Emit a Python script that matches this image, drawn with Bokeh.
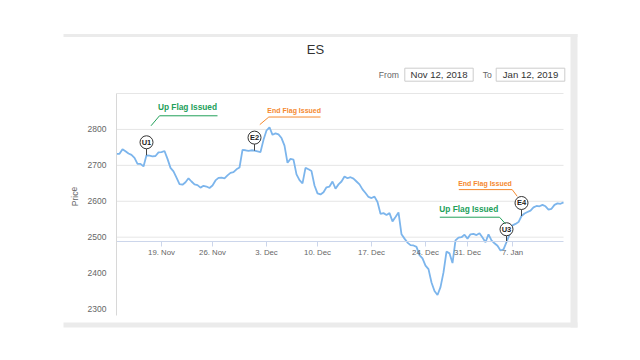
from bokeh.plotting import figure
from bokeh.models import Range1d, FixedTicker, Label, BoxAnnotation
from bokeh.core.properties import value
from bokeh.embed import file_html
from bokeh.resources import INLINE

# ---------------- data ----------------
TITLE = "ES"
FROM_DATE = "Nov 12, 2018"
TO_DATE = "Jan 12, 2019"

# ES price, ordinal (trading-time) samples from 13 Nov 2018 to 11 Jan 2019
prices = [
    2732, 2732, 2745, 2739, 2733, 2729, 2721, 2704, 2704, 2697,
    2728, 2727, 2725, 2726, 2736, 2737, 2740, 2718, 2693, 2683,
    2666, 2648, 2646, 2653, 2664, 2655, 2647, 2645, 2638, 2643,
    2641, 2637, 2644, 2658, 2665, 2666, 2664, 2672, 2679, 2681,
    2689, 2694, 2743, 2742, 2740, 2742, 2741, 2739, 2737, 2771,
    2797, 2806, 2785, 2789, 2786, 2776, 2755, 2707, 2718, 2716,
    2675, 2659, 2650, 2693, 2689, 2684, 2644, 2622, 2619, 2625,
    2639, 2641, 2655, 2635, 2647, 2655, 2669, 2664, 2667, 2663,
    2655, 2647, 2633, 2623, 2612, 2609, 2613, 2598, 2565, 2567,
    2562, 2567, 2544, 2556, 2569, 2508, 2496, 2485, 2478, 2477,
    2473, 2450, 2441, 2421, 2411, 2374, 2350, 2339, 2361, 2402,
    2460, 2455, 2428, 2491, 2499, 2500, 2507, 2496, 2508, 2509,
    2506, 2511, 2499, 2486, 2508, 2491, 2483, 2476, 2463, 2466,
    2486, 2507, 2533, 2537, 2542, 2559, 2566, 2570, 2574, 2583,
    2587, 2586, 2590, 2586, 2577, 2579, 2590, 2594, 2593, 2597,
]
x_index = list(range(len(prices)))

tick_index = [15, 32, 50, 67, 85, 103, 117, 132]
tick_labels = ["19. Nov", "26. Nov", "3. Dec", "10. Dec", "17. Dec", "24. Dec", "31. Dec", "7. Jan"]

y_label_ticks = [2300, 2400, 2500, 2600, 2700, 2800]
y_grid_ticks = [2500, 2600, 2700, 2800, 2900]
x_axis_level = 2489
Y_MIN, Y_MAX = 2282, 2900

flag_index = [10, 46, 130, 135]
flag_names = ["U1", "E2", "U3", "E4"]
callout_texts = ["Up Flag Issued", "End Flag Issued", "Up Flag Issued", "End Flag Issued"]

# ---------------- styles ----------------
GREEN = "#22a05a"
ORANGE = "#f5892f"
callout_colors = [GREEN, ORANGE, GREEN, ORANGE]
callout_sizes = ["8.3px", "7px", "8.3px", "7px"]
# pixel offsets (dx, dy; dy positive = down) relative to the flagged point
text_off = [(41, -48), (39.7, -40.3), (-37.7, -33.7), (-36.5, -32.2)]
diag_off = [(4.5, -29.5), (5.3, -26), (-1, -18.4), (-4.3, -19.7)]
near_off = [(13, -39.5), (14.3, -33.6), (-7, -25), (-9.3, -26.4)]
far_off = [(71, -39.5), (66, -33.6), (-66.7, -25), (-62.7, -26.4)]
FLAG_RISE = 13
FLAG_R = 6.5

W, H = 624, 344
# plot area in canvas pixels
PA_L, PA_R, PA_T, PA_B = 116, 563, 93, 315
X_FIRST, X_LAST = 0, len(prices) - 1
PX_X = (PA_R - PA_L) / (X_LAST - X_FIRST)
PX_Y = (PA_B - PA_T) / (Y_MAX - Y_MIN)
xr = Range1d(X_FIRST - PA_L / PX_X, X_LAST + (W - PA_R) / PX_X)
yr = Range1d(Y_MIN - (H - PA_B) / PX_Y, Y_MAX + PA_T / PX_Y)

def ox(i, dx):
    return i + dx / PX_X

def oy(v, dy):
    return v - dy / PX_Y

FONT = "Liberation Sans"
TXT = "#333333"
MUTED = "#666666"

p = figure(width=W, height=H, output_backend="svg", toolbar_location=None,
           x_range=xr, y_range=yr,
           min_border_left=0, min_border_right=0, min_border_top=0, min_border_bottom=0)
p.outline_line_color = None
p.background_fill_color = "white"
p.border_fill_color = "white"
p.xgrid.visible = False
p.ygrid.visible = False

# ---------------- card chrome (canvas px, from top-left) ----------------
def cbox(l, r, t, b, fill, line=None):
    p.add_layout(BoxAnnotation(left=l, right=r, top=t, bottom=b,
                               left_units="canvas", right_units="canvas",
                               top_units="canvas", bottom_units="canvas",
                               fill_color=fill, fill_alpha=1,
                               line_color=line, line_alpha=1 if line else 0, line_width=1,
                               level="underlay"))

cbox(63, 577, 33.5, 36.5, "#ebebeb")
cbox(570, 577, 33.5, 327, "#ebebeb")
cbox(63, 577, 322, 327, "#ebebeb")
cbox(404.3, 472.7, 67.7, 80.7, "white", "#cccccc")
cbox(495.7, 564.3, 67.7, 80.7, "white", "#cccccc")

def clabel(px, py, text, size, color, angle=0):
    p.add_layout(Label(x=px, y=py, x_units="canvas", y_units="canvas", text=text,
                       text_align="center", text_baseline="middle", text_font=FONT,
                       text_font_size=size, text_color=color, angle=angle))

clabel(315, 48.7, TITLE, "13px", TXT)
clabel(388.3, 74, "From", "8.6px", MUTED)
clabel(438.5, 74.2, FROM_DATE, "9.6px", TXT)
clabel(486.7, 74, "To", "8.6px", MUTED)
clabel(530, 74.2, TO_DATE, "9.6px", TXT)
clabel(74, 196, "Price", "8.5px", MUTED, angle=1.5708)

# horizontal grid lines, limited to the plot area
p.segment(x0=[X_FIRST] * len(y_grid_ticks), x1=[X_LAST] * len(y_grid_ticks),
          y0=y_grid_ticks, y1=y_grid_ticks, line_color="#e6e6e6", line_width=1)

# y axis at the left edge of the plot area
p.yaxis.fixed_location = X_FIRST
p.yaxis.bounds = (Y_MIN, Y_MAX)
p.yaxis.ticker = FixedTicker(ticks=y_label_ticks)
p.yaxis.major_tick_out = 0
p.yaxis.major_tick_in = 0
p.yaxis.minor_tick_out = 0
p.yaxis.minor_tick_in = 0
p.yaxis.axis_line_color = "#d8d8d8"
p.yaxis.major_label_standoff = 10
p.yaxis.major_label_text_font = FONT
p.yaxis.major_label_text_font_size = "8.5px"
p.yaxis.major_label_text_color = MUTED

# x axis, crossing inside the plot
p.xaxis.fixed_location = x_axis_level
p.xaxis.bounds = (X_FIRST, X_LAST)
p.xaxis.ticker = FixedTicker(ticks=tick_index)
p.xaxis.major_label_overrides = {i: t for i, t in zip(tick_index, tick_labels)}
p.xaxis.major_tick_out = 5
p.xaxis.major_tick_in = 0
p.xaxis.minor_tick_out = 0
p.xaxis.minor_tick_in = 0
p.xaxis.axis_line_color = "#ccd6eb"
p.xaxis.major_tick_line_color = "#ccd6eb"
p.xaxis.major_label_standoff = 2
p.xaxis.major_label_text_font = FONT
p.xaxis.major_label_text_font_size = "7.8px"
p.xaxis.major_label_text_color = MUTED

# price line
p.line(x_index, prices, line_color="#7cb5ec", line_width=1.8)

# flags
fp = [prices[i] for i in flag_index]
p.segment(x0=flag_index, y0=fp, x1=flag_index, y1=[oy(v, -(FLAG_RISE - FLAG_R)) for v in fp],
          line_color="#444444", line_width=1)
circ_y = [oy(v, -FLAG_RISE) for v in fp]
p.scatter(flag_index, circ_y, size=2 * FLAG_R, marker="circle",
          fill_color="white", line_color="#333333", line_width=1)
p.text(flag_index, circ_y, text=flag_names, text_align="center", text_baseline="middle",
       text_font=value(FONT), text_font_style="bold", text_font_size="7.5px", text_color="#222222")

# callouts
for k, i in enumerate(flag_index):
    v = fp[k]
    xs = [ox(i, diag_off[k][0]), ox(i, near_off[k][0]), ox(i, far_off[k][0])]
    ys = [oy(v, diag_off[k][1]), oy(v, near_off[k][1]), oy(v, far_off[k][1])]
    p.line(xs, ys, line_color=callout_colors[k], line_width=1)
    p.text([ox(i, text_off[k][0])], [oy(v, text_off[k][1])], text=[callout_texts[k]],
           text_align="center", text_baseline="middle", text_font=value(FONT),
           text_font_style="bold", text_font_size=callout_sizes[k], text_color=callout_colors[k])

open("out.html", "w").write(file_html(p, INLINE))
